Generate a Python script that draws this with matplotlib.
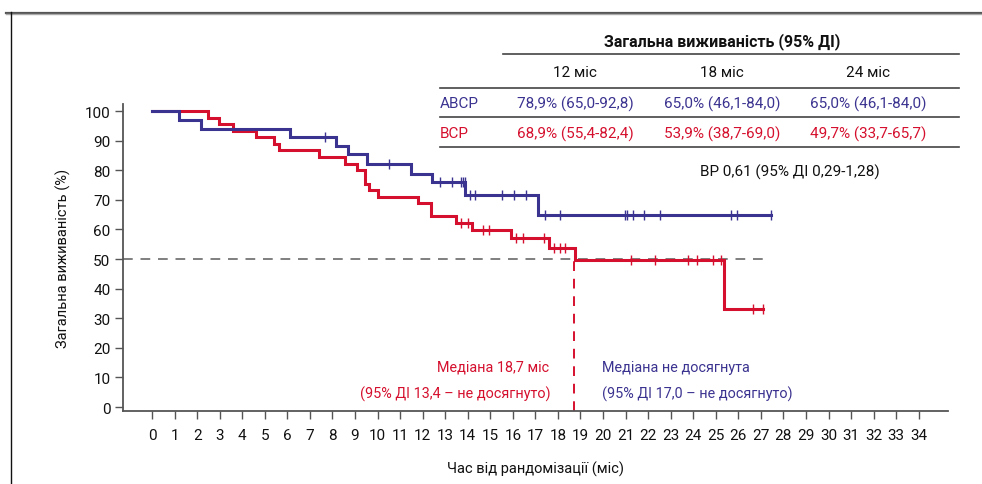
import numpy as np
import matplotlib
matplotlib.use("Agg")
import matplotlib.pyplot as plt
from matplotlib.lines import Line2D

plt.rcParams['font.family'] = ['Roboto', 'DejaVu Sans']

# ---------------- data ----------------
abcp_times = [0, 1.2, 2.15, 6.1, 8.15, 8.7, 9.55, 11.5, 12.4, 13.9, 17.1]
abcp_surv = [100, 97.1, 94.1, 91.1, 88.3, 85.5, 82.1, 78.9, 75.9, 71.6, 65.0]
abcp_censor = [7.66, 10.52, 12.75, 13.28, 13.72, 13.79, 13.86, 14.12, 14.32,
               15.54, 16.03, 16.58, 17.44, 18.11, 20.97, 21.07, 21.34, 21.82,
               22.53, 25.66, 25.95, 27.45]

bcp_times = [0, 2.5, 2.95, 3.6, 4.6, 5.4, 5.65, 7.4, 8.55, 9.1, 9.45, 9.6,
             10.0, 11.8, 12.38, 13.5, 14.2, 15.9, 17.6, 18.75, 25.35]
bcp_surv = [100, 97.8, 95.6, 93.3, 91.1, 88.9, 86.7, 84.4, 82.2, 80.0, 75.5,
            73.3, 71.1, 68.9, 64.4, 62.2, 59.9, 57.0, 53.9, 49.7, 33.1]
bcp_censor = [13.72, 14.02, 14.69, 14.94, 16.16, 16.46, 17.4, 17.84, 18.1,
              18.33, 21.24, 22.31, 23.76, 24.17, 24.88, 25.24, 26.65, 27.1]

bcp_median = 18.7
x_ticks = list(range(0, 35))
y_ticks = list(range(0, 101, 10))

table_title = "Загальна виживаність (95% ДІ)"
table_cols = ["12 міс", "18 міс", "24 міс"]
table_rows = ["ABCP", "BCP"]
table_vals = [["78,9% (65,0-92,8)", "65,0% (46,1-84,0)", "65,0% (46,1-84,0)"],
              ["68,9% (55,4-82,4)", "53,9% (38,7-69,0)", "49,7% (33,7-65,7)"]]
hr_text = "ВР 0,61 (95% ДІ 0,29-1,28)"

BLUE = "#3b3390"
RED = "#d5102e"
GRAY = "#7f7f7f"

W, H = 982, 485
fig = plt.figure(figsize=(W / 100, H / 100), dpi=100)


def fx(x):
    return x / W


def fy(y):
    return 1 - y / H


ax = fig.add_axes([fx(123), fy(412), fx(948) - fx(123), fy(105) - fy(412)])
ax.set_xlim(-1.29, 35.3)
ax.set_ylim(-1.35, 102.4)

for s in ['top', 'right']:
    ax.spines[s].set_visible(False)
for s in ['left', 'bottom']:
    ax.spines[s].set_color("#555555")
    ax.spines[s].set_linewidth(1.3)

ax.set_xticks(x_ticks)
ax.set_yticks(y_ticks)
ax.tick_params(axis='both', direction='out', length=6, width=1.0,
               color="#555555", labelsize=11, labelcolor="#111111")
ax.tick_params(axis='x', pad=6)
ax.tick_params(axis='y', pad=3)

# reference line at 50
ax.plot([-1.29, 27.4], [50, 50], color=GRAY, lw=1.4, ls=(0, (5, 4)), zorder=1)


def km(times, surv, censor, color, z):
    end = censor[-1]
    t = list(times) + [end]
    s = list(surv) + [surv[-1]]
    ax.step(t, s, where='post', color=color, lw=2.2, zorder=z,
            solid_joinstyle='miter')
    idx = np.searchsorted(np.array(times), np.array(censor), side='right') - 1
    cy = np.array(surv)[idx]
    ax.plot(censor, cy, ls='none', marker='|', ms=7, mew=1.0, color=color,
            zorder=z)


km(bcp_times, bcp_surv, bcp_censor, RED, 3)
km(abcp_times, abcp_surv, abcp_censor, BLUE, 4)

# median line
ax.plot([bcp_median, bcp_median], [-1.35, 50], color=RED, lw=1.4,
        ls=(0, (5, 4)), zorder=2, clip_on=False)

ax.set_xlabel("Час від рандомізації (міс)", fontsize=10.5, labelpad=14,
              color="#111111")
ax.set_ylabel("Загальна виживаність (%)", fontsize=10.5, labelpad=10,
              color="#111111")

# median annotations
afs = 10.4
fig.text(fx(549), fy(368), "Медіана 18,7 міс", color=RED, fontsize=afs,
         ha='right', va='center')
fig.text(fx(551), fy(394), "(95% ДІ 13,4 – не досягнуто)", color=RED,
         fontsize=afs, ha='right', va='center')
fig.text(fx(602), fy(368), "Медіана не досягнута", color=BLUE, fontsize=afs,
         ha='left', va='center')
fig.text(fx(602), fy(394), "(95% ДІ 17,0 – не досягнуто)", color=BLUE,
         fontsize=afs, ha='left', va='center')

# table
fig.text(fx(722), fy(42), table_title, fontsize=11.5, fontweight='bold',
         ha='center', va='center', color="#111111")
col_x = [575, 722, 868]
for cx, c in zip(col_x, table_cols):
    fig.text(fx(cx), fy(73), c, fontsize=11, ha='center', va='center',
             color="#111111")
row_y = [104, 134]
row_col = [BLUE, RED]
for ry, name, vals, colr in zip(row_y, table_rows, table_vals, row_col):
    fig.text(fx(440), fy(ry), name, fontsize=11, ha='left', va='center',
             color=colr)
    for cx, v in zip(col_x, vals):
        fig.text(fx(cx), fy(ry), v, fontsize=11, ha='center', va='center',
                 color=colr)

for (x0, yy) in [(503, 55), (440, 89), (440, 118), (440, 148)]:
    fig.add_artist(Line2D([fx(x0), fx(959)], [fy(yy), fy(yy)], color="#444444",
                          lw=1.2))

fig.text(fx(790), fy(172), hr_text, fontsize=11, ha='center', va='center',
         color="#111111")

# outer frame
fig.add_artist(Line2D([fx(6), 1], [fy(13.5), fy(13.5)], color="#555555", lw=1.6))
fig.add_artist(Line2D([fx(6), 1], [fy(15), fy(15)], color="#aaaaaa", lw=1.0))
fig.add_artist(Line2D([fx(10.7), fx(10.7)], [fy(13), 0], color="#111111", lw=1.0))

fig.savefig("out.png", dpi=100)
